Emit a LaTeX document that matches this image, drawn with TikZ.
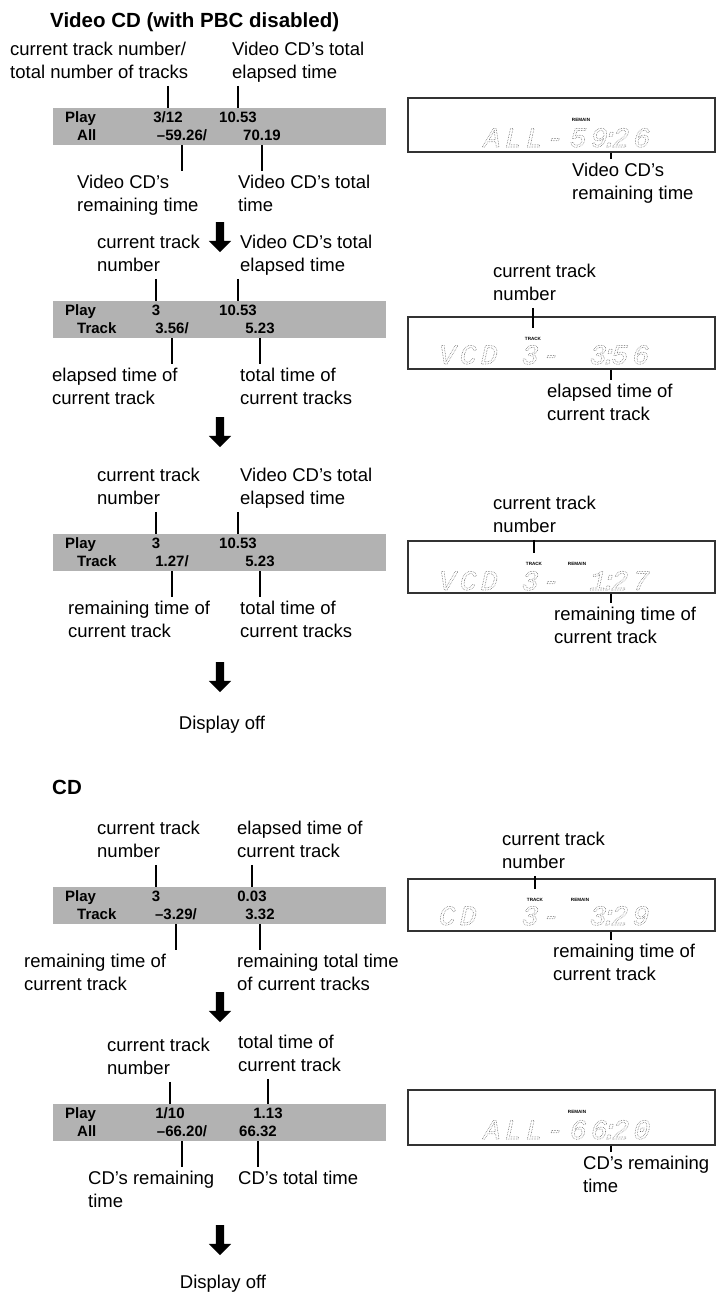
\documentclass[tikz,border=0pt]{standalone}
\usepackage{fontspec}
\setmainfont{Liberation Sans}
\newfontfamily\lcdfont[FakeSlant=0.22,LetterSpace=15]{Liberation Mono}
\usetikzlibrary{positioning, shapes.arrows}
\definecolor{bargray}{RGB}{178,178,178}
\definecolor{lcdgray}{RGB}{90,90,90}
% dotted outline text for the LCD read-outs
\newcommand{\lcdtext}[1]{\special{pdf:literal direct 1 Tr 1 J [0 1.6] 0 d 0.75 w}#1\special{pdf:literal direct 0 Tr 0 J [] 0 d}}
\newcommand{\lcdcolon}{\kern-6pt:\kern-6pt}

\begin{document}
\begin{tikzpicture}[x=1pt, y=-1pt,
        lbl/.style={anchor=north west, inner sep=0pt, align=left, font=\fontsize{18.5}{23.5}\selectfont},
        bar/.style={fill=bargray, minimum width=333pt, minimum height=37pt, inner sep=0pt},
        hdr/.style={anchor=base west, inner sep=0pt, font=\fontsize{15}{18}\selectfont\bfseries},
        val/.style={anchor=base, inner sep=0pt, font=\fontsize{15}{18}\selectfont\bfseries},
        lcdbox/.style={draw=black!80, line width=1.2pt, minimum width=307pt, inner sep=0pt},
        lcdtxt/.style={anchor=base west, inner sep=0pt, text=lcdgray, font=\fontsize{28}{30}\lcdfont},
        ind/.style={inner sep=0pt, font=\fontsize{4.6}{5}\selectfont\bfseries},
        tick/.style={line width=1.1pt},
        lcdtick/.style={line width=1.7pt},
        downarrow/.style={single arrow, fill=black, draw=none, shape border rotate=270, minimum height=30pt, single arrow head extend=7pt, inner sep=4pt}
    ]
        \useasboundingbox (0,0) rectangle (724,1294);

        % Headings
        \node[anchor=base west, inner sep=0pt, font=\fontsize{20.5}{24}\selectfont\bfseries] (vcdhead) at (50,27) {Video CD (with PBC disabled)};
        \node[anchor=base west, inner sep=0pt, font=\fontsize{20.5}{24}\selectfont\bfseries] (cdhead) at (52,794) {CD};

        % Video CD: all tracks
        \node[bar] (bar1) at (219.5,126.5) {};
        \node[hdr] (h1a) at (65,122) {Play};
        \node[hdr] (h1b) at (77,140.5) {All};
        \node[val] (v1a) at (168,122) {3/12};
        \node[val] (v1b) at (238,122) {10.53};
        \node[val] (v1c) at (182,140.5) {–59.26/};
        \node[val] (v1d) at (262,140.5) {70.19};
        \node[lbl] (l1a) at (10,38.35) {\strut current track number/\\\strut total number of tracks};
        \node[lbl] (l1b) at (232,38.35) {\strut Video CD’s total\\\strut elapsed time};
        \node[lbl] (l1c) at (77,171.35) {\strut Video CD’s\\\strut remaining time};
        \node[lbl] (l1d) at (238,171.35) {\strut Video CD’s total\\\strut time};
        \draw[tick] (v1a |- l1a.south) -- (v1a |- bar1.north);
        \draw[tick] (v1b |- l1b.south) -- (v1b |- bar1.north);
        \draw[tick] (v1c |- bar1.south) -- (v1c |- l1c.north);
        \draw[tick] (v1d |- bar1.south) -- (v1d |- l1d.north);

        \node[lcdbox, minimum height=54pt] (lcd1) at (561.5,125) {};
        \node[ind] (r1) at (581,120) {REMAIN};
        \node[lcdtxt] (d1a) at (482,147) {\lcdtext{ALL-}};
        \node[lcdtxt] (d1b) at (568,147) {\lcdtext{59\lcdcolon26}};
        \node[lbl] (m1) at (572,159.35) {\strut Video CD’s\\\strut remaining time};
        \coordinate (k1) at ([xshift=49.5pt]lcd1.south);
        \draw[lcdtick] (k1) -- (k1 |- m1.north);

        \node[downarrow] (a1) at (220,235) {};

        % Video CD: current track, elapsed
        \node[bar] (bar2) at (219.5,319.5) {};
        \node[hdr] (h2a) at (65,315) {Play};
        \node[hdr] (h2b) at (77,333.5) {Track};
        \node[val] (v2a) at (156,315) {3};
        \node[val] (v2b) at (238,315) {10.53};
        \node[val] (v2c) at (172,333.5) {3.56/};
        \node[val] (v2d) at (260,333.5) {5.23};
        \node[lbl] (l2a) at (97,231.35) {\strut current track\\\strut number};
        \node[lbl] (l2b) at (240,231.35) {\strut Video CD’s total\\\strut elapsed time};
        \node[lbl] (l2c) at (52,364.35) {\strut elapsed time of\\\strut current track};
        \node[lbl] (l2d) at (240,364.35) {\strut total time of\\\strut current tracks};
        \draw[tick] (v2a |- l2a.south) -- (v2a |- bar2.north);
        \draw[tick] (v2b |- l2b.south) -- (v2b |- bar2.north);
        \draw[tick] (v2c |- bar2.south) -- (v2c |- l2c.north);
        \draw[tick] (v2d |- bar2.south) -- (v2d |- l2d.north);

        \node[lcdbox, minimum height=52pt] (lcd2) at (561.5,343) {};
        \node[ind] (t2) at (533,339) {TRACK};
        \node[lcdtxt] (d2a) at (437,364) {\lcdtext{VCD}};
        \node[lcdtxt] (d2b) at (520,364) {\lcdtext{3-}};
        \node[lcdtxt] (d2c) at (588,364) {\lcdtext{3\lcdcolon56}};
        \node[lbl] (m2a) at (493,260.35) {\strut current track\\\strut number};
        \node[lbl] (m2b) at (547,380.35) {\strut elapsed time of\\\strut current track};
        \coordinate (k2) at ([xshift=49.5pt]lcd2.south);
        \draw[lcdtick] (t2.north |- m2a.south) -- ([yshift=9pt]t2.north);
        \draw[lcdtick] (k2) -- (k2 |- m2b.north);

        \node[downarrow] (a2) at (220,430) {};

        % Video CD: current track, remaining
        \node[bar] (bar3) at (219.5,552.5) {};
        \node[hdr] (h3a) at (65,548) {Play};
        \node[hdr] (h3b) at (77,566.5) {Track};
        \node[val] (v3a) at (156,548) {3};
        \node[val] (v3b) at (238,548) {10.53};
        \node[val] (v3c) at (172,566.5) {1.27/};
        \node[val] (v3d) at (260,566.5) {5.23};
        \node[lbl] (l3a) at (97,464.35) {\strut current track\\\strut number};
        \node[lbl] (l3b) at (240,464.35) {\strut Video CD’s total\\\strut elapsed time};
        \node[lbl] (l3c) at (68,597.35) {\strut remaining time of\\\strut current track};
        \node[lbl] (l3d) at (240,597.35) {\strut total time of\\\strut current tracks};
        \draw[tick] (v3a |- l3a.south) -- (v3a |- bar3.north);
        \draw[tick] (v3b |- l3b.south) -- (v3b |- bar3.north);
        \draw[tick] (v3c |- bar3.south) -- (v3c |- l3c.north);
        \draw[tick] (v3d |- bar3.south) -- (v3d |- l3d.north);

        \node[lcdbox, minimum height=52pt] (lcd3) at (561.5,567) {};
        \node[ind] (t3) at (534,564) {TRACK};
        \node[ind] (r3) at (577,564) {REMAIN};
        \node[lcdtxt] (d3a) at (437,590) {\lcdtext{VCD}};
        \node[lcdtxt] (d3b) at (520,590) {\lcdtext{3-}};
        \node[lcdtxt] (d3c) at (588,590) {\lcdtext{1\lcdcolon27}};
        \node[lbl] (m3a) at (493,492.35) {\strut current track\\\strut number};
        \node[lbl] (m3b) at (554,603.35) {\strut remaining time of\\\strut current track};
        \coordinate (k3) at ([xshift=49.5pt]lcd3.south);
        \draw[lcdtick] (t3.north |- m3a.south) -- ([yshift=9pt]t3.north);
        \draw[lcdtick] (k3) -- (k3 |- m3b.north);

        \node[downarrow] (a3) at (220,675) {};
        \node[inner sep=0pt, font=\fontsize{18.5}{23.5}\selectfont] (off1) at (222,725) {Display off};

        % CD: current track
        \node[bar] (bar4) at (219.5,905.5) {};
        \node[hdr] (h4a) at (65,901) {Play};
        \node[hdr] (h4b) at (77,919.5) {Track};
        \node[val] (v4a) at (156,901) {3};
        \node[val] (v4b) at (252,901) {0.03};
        \node[val] (v4c) at (176,919.5) {–3.29/};
        \node[val] (v4d) at (260,919.5) {3.32};
        \node[lbl] (l4a) at (97,817.35) {\strut current track\\\strut number};
        \node[lbl] (l4b) at (237,817.35) {\strut elapsed time of\\\strut current track};
        \node[lbl] (l4c) at (24,950.35) {\strut remaining time of\\\strut current track};
        \node[lbl] (l4d) at (237,950.35) {\strut remaining total time\\\strut of current tracks};
        \draw[tick] (v4a |- l4a.south) -- (v4a |- bar4.north);
        \draw[tick] (v4b |- l4b.south) -- (v4b |- bar4.north);
        \draw[tick] (v4c |- bar4.south) -- (v4c |- l4c.north);
        \draw[tick] (v4d |- bar4.south) -- (v4d |- l4d.north);

        \node[lcdbox, minimum height=52pt] (lcd4) at (561.5,905) {};
        \node[ind] (t4) at (535,900) {TRACK};
        \node[ind] (r4) at (580,900) {REMAIN};
        \node[lcdtxt] (d4a) at (437,925) {\lcdtext{CD}};
        \node[lcdtxt] (d4b) at (520,925) {\lcdtext{3-}};
        \node[lcdtxt] (d4c) at (588,925) {\lcdtext{3\lcdcolon29}};
        \node[lbl] (m4a) at (502,828.35) {\strut current track\\\strut number};
        \node[lbl] (m4b) at (553,940.35) {\strut remaining time of\\\strut current track};
        \coordinate (k4) at ([xshift=49.5pt]lcd4.south);
        \draw[lcdtick] (t4.north |- m4a.south) -- ([yshift=9pt]t4.north);
        \draw[lcdtick] (k4) -- (k4 |- m4b.north);

        \node[downarrow] (a4) at (220,1005) {};

        % CD: all tracks
        \node[bar] (bar5) at (219.5,1122.5) {};
        \node[hdr] (h5a) at (65,1118) {Play};
        \node[hdr] (h5b) at (77,1136.5) {All};
        \node[val] (v5a) at (170,1118) {1/10};
        \node[val] (v5b) at (268,1118) {1.13};
        \node[val] (v5c) at (182,1136.5) {–66.20/};
        \node[val] (v5d) at (258,1136.5) {66.32};
        \node[lbl] (l5a) at (107,1034.35) {\strut current track\\\strut number};
        \node[lbl] (l5b) at (238,1031.35) {\strut total time of\\\strut current track};
        \node[lbl] (l5c) at (88,1167.35) {\strut CD’s remaining\\\strut time};
        \node[lbl] (l5d) at (238,1167.35) {\strut CD’s total time};
        \draw[tick] (v5a |- l5a.south) -- (v5a |- bar5.north);
        \draw[tick] (v5b |- l5b.south) -- (v5b |- bar5.north);
        \draw[tick] (v5c |- bar5.south) -- (v5c |- l5c.north);
        \draw[tick] (v5d |- bar5.south) -- (v5d |- l5d.north);

        \node[lcdbox, minimum height=55pt] (lcd5) at (561.5,1117.5) {};
        \node[ind] (r5) at (577,1112) {REMAIN};
        \node[lcdtxt] (d5a) at (482,1139) {\lcdtext{ALL-}};
        \node[lcdtxt] (d5b) at (568,1139) {\lcdtext{66\lcdcolon20}};
        \node[lbl] (m5) at (583,1152.35) {\strut CD’s remaining\\\strut time};
        \coordinate (k5) at ([xshift=49.5pt]lcd5.south);
        \draw[lcdtick] (k5) -- (k5 |- m5.north);

        \node[downarrow] (a5) at (220,1238) {};
        \node[inner sep=0pt, font=\fontsize{18.5}{23.5}\selectfont] (off2) at (223,1284) {Display off};
\end{tikzpicture}
\end{document}
